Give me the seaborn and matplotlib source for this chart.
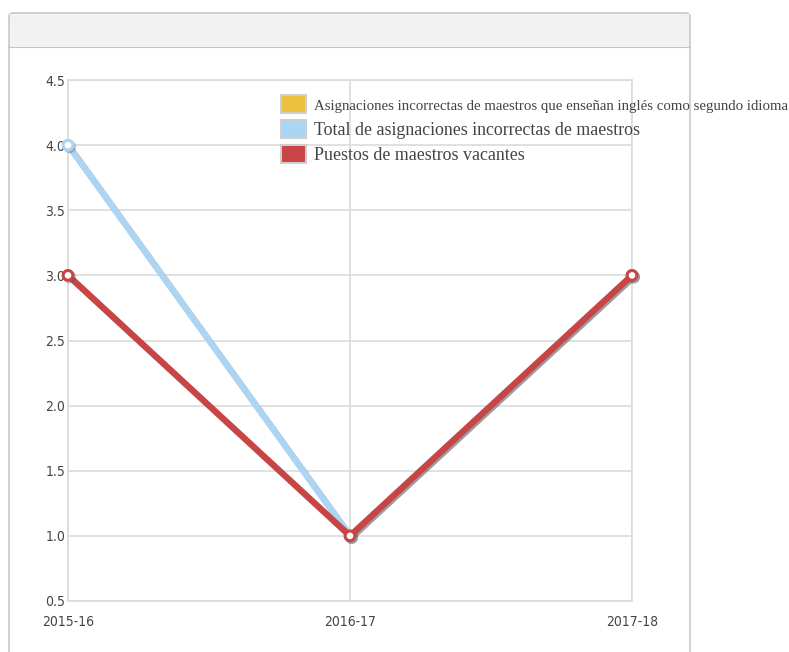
import matplotlib
matplotlib.use("Agg")
import matplotlib.pyplot as plt
import matplotlib.patheffects as pe
from matplotlib.patches import FancyBboxPatch, Rectangle, Patch
import seaborn as sns
import pandas as pd
import numpy as np

years = ["2015-16", "2016-17", "2017-18"]
esl_misassign = [np.nan, np.nan, np.nan]
total_misassign = [4.0, 1.0, 3.0]
vacant = [3.0, 1.0, 3.0]
series_names = [
    "Asignaciones incorrectas de maestros que enseñan inglés como segundo idioma",
    "Total de asignaciones incorrectas de maestros",
    "Puestos de maestros vacantes",
]
colors = ["#ecc13c", "#acd5f4", "#c94444"]
yticks = [0.5, 1.0, 1.5, 2.0, 2.5, 3.0, 3.5, 4.0, 4.5]

df = pd.DataFrame({
    "pos": list(range(3)) * 3,
    "value": esl_misassign + total_misassign + vacant,
    "serie": [series_names[0]] * 3 + [series_names[1]] * 3 + [series_names[2]] * 3,
})

sns.set_theme(style="white")
plt.rcParams["font.family"] = ["DejaVu Sans"]

W, H = 789, 652
fig = plt.figure(figsize=(W / 100, H / 100), dpi=100)

# panel
panel = FancyBboxPatch((9 / W, -0.05), 681 / W, 1 - 13 / H + 0.05,
                       boxstyle="round,pad=0,rounding_size=0.006",
                       transform=fig.transFigure, facecolor="white",
                       edgecolor="#c8c8c8", linewidth=1.2, zorder=-2)
fig.patches.append(panel)
header = Rectangle((10 / W, 1 - 47 / H), 679 / W, 33 / H, transform=fig.transFigure,
                   facecolor="#f2f2f2", edgecolor="none", zorder=-1)
fig.patches.append(header)
fig.add_artist(plt.Line2D([9 / W, 690 / W], [1 - 47 / H, 1 - 47 / H],
                          transform=fig.transFigure, color="#c4c4c4", lw=1.5, zorder=-1))

ax = fig.add_axes([68 / W, 1 - 601 / H, (632 - 68) / W, (601 - 80) / H])
ax.set_facecolor("none")
ax.set_zorder(3)

shadow = [pe.SimpleLineShadow(offset=(1.2, -1.2), shadow_color="#555555", alpha=0.35),
          pe.Normal()]
for name, col in zip(series_names[1:], colors[1:]):
    sub = df[df["serie"] == name]
    sns.lineplot(data=sub, x="pos", y="value", ax=ax, color=col, lw=4.5,
                 marker="o", markersize=7, markerfacecolor="white",
                 markeredgecolor=col, markeredgewidth=2.2, sort=False,
                 legend=False, path_effects=shadow, zorder=5, clip_on=False)

ax.set_xlim(0, 2)
ax.set_ylim(0.5, 4.5)
ax.set_yticks(yticks)
ax.set_yticklabels([f"{v:.1f}" for v in yticks])
ax.set_xticks(range(3))
ax.set_xticklabels(years)
ax.set_xlabel("")
ax.set_ylabel("")
ax.grid(True, color="#dcdcdc", lw=1.2)
ax.set_axisbelow(True)
for s in ax.spines.values():
    s.set_color("#dcdcdc")
    s.set_linewidth(1.2)
ax.tick_params(axis="both", length=0, labelsize=10, colors="#444444")
for lab in ax.get_xticklabels() + ax.get_yticklabels():
    lab.set_fontstretch("condensed")
ax.tick_params(axis="y", pad=2)
ax.tick_params(axis="x", pad=10)

handles = [Patch(facecolor=c, edgecolor="#cfcfcf", linewidth=1.5) for c in colors]
leg = fig.legend(handles, series_names, loc="upper left",
                 bbox_to_anchor=(272 / W, 1 - 86 / H), frameon=False,
                 borderpad=0, handlelength=1.4, handleheight=1.15,
                 handletextpad=0.42, labelspacing=0.38,
                 prop={"family": "Liberation Serif", "size": 12.9})
leg.get_texts()[0].set_fontsize(10.75)
leg.set_zorder(10)
for t in leg.get_texts():
    t.set_color("#444444")

fig.savefig("out.png", dpi=100)
